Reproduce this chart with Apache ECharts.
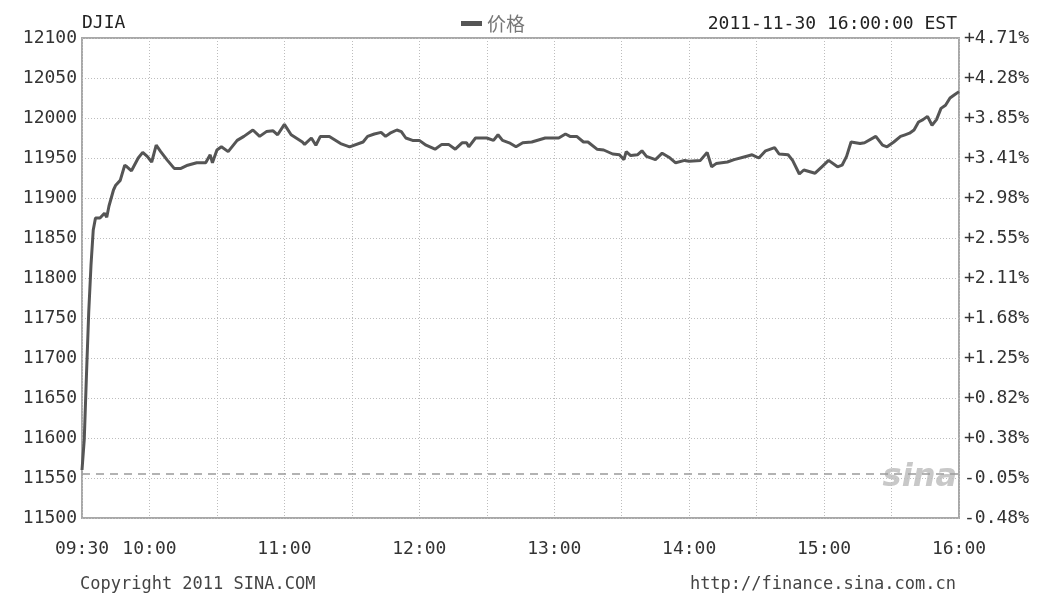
<!DOCTYPE html>
<html><head><meta charset="utf-8">
<script src="https://cdn.jsdelivr.net/npm/echarts@6/dist/echarts.min.js"></script>
<style>html,body{margin:0;padding:0;background:#fff}#c{width:1038px;height:598px}</style>
</head><body><div id="c"></div>
<script>
// minutes after 09:30
const minutes = [0,1,2,3,4,5,6,8,10,11,12,14,15,17,19,20,22,25,27,29,31,33,35,38,41,44,47,51,55,57,58,60,62,65,69,72,76,79,82,85,87,90,93,98,99,102,104,106,110,115,119,125,127,130,133,135,137,140,142,144,147,150,153,157,160,163,166,169,171,172,175,180,183,185,187,190,193,196,200,206,212,215,217,220,223,225,229,232,236,239,241,242,244,247,249,251,255,258,261,264,268,270,275,278,280,282,287,290,294,298,301,304,308,310,314,316,319,321,326,329,332,336,338,340,342,346,348,353,356,358,361,364,366,368,370,372,374,376,378,380,382,384,386,388,390];
const prices = [11560,11598,11680,11758,11816,11860,11875,11875,11881,11876,11890,11910,11916,11922,11941,11939,11934,11950,11957,11952,11945,11966,11958,11947,11937,11937,11941,11944,11944,11954,11944,11960,11964,11958,11972,11977,11985,11977,11983,11984,11979,11992,11979,11970,11967,11975,11966,11977,11977,11968,11964,11970,11977,11980,11982,11977,11981,11985,11983,11975,11972,11972,11966,11961,11967,11967,11961,11969,11969,11964,11975,11975,11972,11979,11972,11969,11964,11969,11970,11975,11975,11980,11977,11977,11970,11970,11961,11960,11955,11954,11948,11958,11953,11954,11959,11952,11948,11956,11951,11944,11947,11946,11947,11957,11939,11943,11945,11948,11951,11954,11950,11959,11963,11955,11954,11947,11930,11935,11931,11939,11947,11939,11941,11952,11970,11968,11969,11977,11966,11964,11970,11977,11979,11981,11985,11995,11998,12002,11991,11998,12012,12016,12025,12029,12033];
const prevClose = 11555.63;
const xTickMinutes = [0,30,90,150,210,270,330,390];
const xTickLabels = ['09:30','10:00','11:00','12:00','13:00','14:00','15:00','16:00'];
const yMin = 11500, yMax = 12100, yStep = 50;
const pctLabels = ['-0.48%','-0.05%','+0.38%','+0.82%','+1.25%','+1.68%','+2.11%','+2.55%','+2.98%','+3.41%','+3.85%','+4.28%','+4.71%'];
const seriesName = '价格';
const titleText = 'DJIA';
const stampText = '2011-11-30 16:00:00 EST';
const copyText = 'Copyright 2011 SINA.COM';
const urlText = 'http://finance.sina.com.cn';

const mono = 'DejaVu Sans Mono';
const chart = echarts.init(document.getElementById('c'));
const gridLine = {show:true, lineStyle:{color:'#bdbdbd', type:[1,2], width:1}};
chart.setOption({
  animation:false,
  backgroundColor:'#fff',
  textStyle:{fontFamily:mono},
  grid:{left:82, top:38, right:79, bottom:80, show:true, borderColor:'#a8a8a8', borderWidth:2, backgroundColor:'transparent'},
  legend:{top:9, left:456, data:[seriesName], itemWidth:21, itemHeight:5, itemGap:8, icon:'rect',
    textStyle:{fontFamily:'Noto Sans CJK SC', fontSize:19, color:'#777'}},
  graphic:[
    {type:'text', left:82, top:14, style:{text:titleText, font:'18px "DejaVu Sans Mono"', fill:'#222'}},
    {type:'text', right:81, top:15, style:{text:stampText, font:'18px "DejaVu Sans Mono"', fill:'#222'}},
    {type:'text', left:80, top:576, style:{text:copyText, font:'17px "DejaVu Sans Mono"', fill:'#444'}},
    {type:'text', right:82, top:576, style:{text:urlText, font:'17px "DejaVu Sans Mono"', fill:'#444'}},
    {type:'text', right:81, top:462, z:0, style:{text:'sina', font:'italic bold 32px "DejaVu Sans"', fill:'#c8c8c8'}}
  ],
  xAxis:{type:'value', min:0, max:390, interval:30,
    axisLine:{show:false}, axisTick:{show:false}, splitLine:gridLine,
    axisLabel:{margin:22, fontFamily:mono, fontSize:18, color:'#333',
      formatter:v=>{const i=xTickMinutes.indexOf(v);return i>=0?xTickLabels[i]:'';}}},
  yAxis:[
    {type:'value', min:yMin, max:yMax, interval:yStep, position:'left',
      axisLine:{show:false}, axisTick:{show:false}, splitLine:gridLine,
      axisLabel:{margin:5, fontFamily:mono, fontSize:18, color:'#333', formatter:v=>String(v)}},
    {type:'value', min:yMin, max:yMax, interval:yStep, position:'right',
      axisLine:{show:false}, axisTick:{show:false}, splitLine:{show:false},
      axisLabel:{margin:5, fontFamily:mono, fontSize:18, color:'#333',
        formatter:v=>pctLabels[Math.round((v-yMin)/yStep)]}}
  ],
  series:[{
    name:seriesName, type:'line', showSymbol:false, symbol:'none',
    data:minutes.map((m,i)=>[m,prices[i]]),
    lineStyle:{color:'#555', width:3}, itemStyle:{color:'#555'},
    markLine:{silent:true, symbol:'none', label:{show:false},
      lineStyle:{color:'#9a9a9a', type:[8,6], width:1.5},
      data:[{yAxis:prevClose}]}
  }]
});
</script></body></html>
